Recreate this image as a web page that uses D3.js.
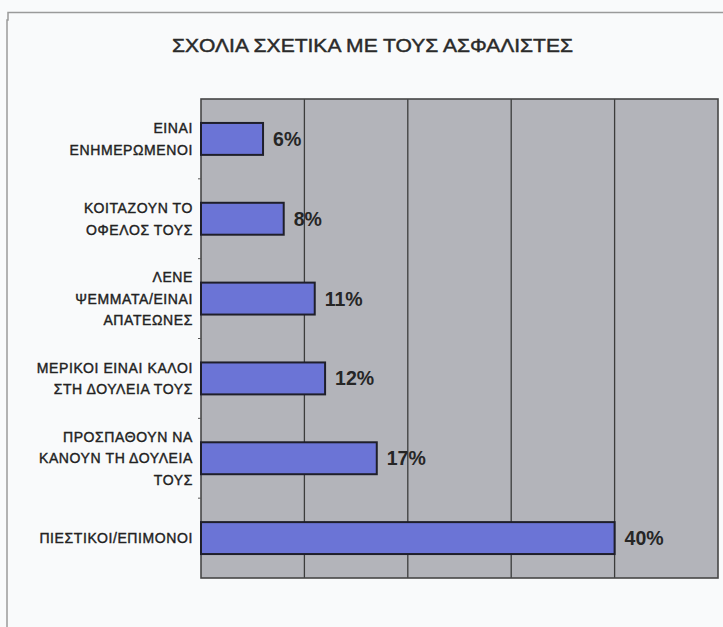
<!DOCTYPE html>
<html>
<head>
<meta charset="utf-8">
<script src="https://cdn.jsdelivr.net/npm/d3@7"></script>
<style>
  html, body { margin: 0; padding: 0; background: #f9fafb; }
  svg { display: block; }
</style>
</head>
<body>
<svg id="chart" width="723" height="627"></svg>
<script>
// Survey answers about insurance agents, one bar per answer
const categories = [
  ["ΕΙΝΑΙ", "ΕΝΗΜΕΡΩΜΕΝΟΙ"],
  ["ΚΟΙΤΑΖΟΥΝ ΤΟ", "ΟΦΕΛΟΣ ΤΟΥΣ"],
  ["ΛΕΝΕ", "ΨΕΜΜΑΤΑ/ΕΙΝΑΙ", "ΑΠΑΤΕΩΝΕΣ"],
  ["ΜΕΡΙΚΟΙ ΕΙΝΑΙ ΚΑΛΟΙ", "ΣΤΗ ΔΟΥΛΕΙΑ  ΤΟΥΣ"],
  ["ΠΡΟΣΠΑΘΟΥΝ ΝΑ", "ΚΑΝΟΥΝ ΤΗ ΔΟΥΛΕΙΑ", "ΤΟΥΣ"],
  ["ΠΙΕΣΤΙΚΟΙ/ΕΠΙΜΟΝΟΙ"]
];
const values = [0.06, 0.08, 0.11, 0.12, 0.17, 0.40];
const gridTicks = [0, 0.1, 0.2, 0.3, 0.4, 0.5];
const titleText = "ΣΧΟΛΙΑ ΣΧΕΤΙΚΑ ΜΕ ΤΟΥΣ ΑΣΦΑΛΙΣΤΕΣ";

const svg = d3.select("#chart");
const plot = { left: 201, right: 718, top: 99, bottom: 578 };

// outer frame (top and left edges)
svg.append("path")
  .attr("d", "M7,627 L7,20 L8,20 L8,12.5 L723,12.5")
  .attr("fill", "none")
  .attr("stroke", "#9a9a9a")
  .attr("stroke-width", 1.5);

// title
svg.append("text")
  .attr("x", 372.5)
  .attr("y", 52)
  .attr("text-anchor", "middle")
  .attr("font-family", "Liberation Sans, Arial, sans-serif")
  .attr("font-size", 19)
  .attr("fill", "#2a2a2a")
  .attr("stroke", "#2a2a2a")
  .attr("stroke-width", 0.45)
  .attr("textLength", 401)
  .attr("lengthAdjust", "spacingAndGlyphs")
  .text(titleText);

const x = d3.scaleLinear().domain([0, 0.5]).range([plot.left, plot.right]);
const y = d3.scaleBand()
  .domain(d3.range(categories.length))
  .range([plot.top, plot.bottom])
  .paddingInner(0.6)
  .paddingOuter(0.3);

// plot background
svg.append("rect")
  .attr("x", plot.left).attr("y", plot.top)
  .attr("width", plot.right - plot.left).attr("height", plot.bottom - plot.top)
  .attr("fill", "#b3b4ba");

// vertical gridlines
svg.append("g")
  .selectAll("line")
  .data(gridTicks.slice(1, -1))
  .join("line")
  .attr("x1", d => x(d)).attr("x2", d => x(d))
  .attr("y1", plot.top).attr("y2", plot.bottom)
  .attr("stroke", "#3c3c3c")
  .attr("stroke-width", 1.3);

// plot border
svg.append("rect")
  .attr("x", plot.left).attr("y", plot.top)
  .attr("width", plot.right - plot.left).attr("height", plot.bottom - plot.top)
  .attr("fill", "none")
  .attr("stroke", "#464646")
  .attr("stroke-width", 1.6);

// category tick marks between bands
svg.append("g")
  .selectAll("line")
  .data(d3.range(1, categories.length))
  .join("line")
  .attr("x1", plot.left - 3).attr("x2", plot.left)
  .attr("y1", i => plot.top + i * (plot.bottom - plot.top) / categories.length)
  .attr("y2", i => plot.top + i * (plot.bottom - plot.top) / categories.length)
  .attr("stroke", "#555");

// bars
svg.append("g")
  .selectAll("rect")
  .data(values)
  .join("rect")
  .attr("x", x(0))
  .attr("y", (d, i) => y(i))
  .attr("width", d => x(d) - x(0))
  .attr("height", y.bandwidth())
  .attr("fill", "#6b74d6")
  .attr("stroke", "#1f1f2a")
  .attr("stroke-width", 2);

// value labels
const fmt = d3.format(".0%");
svg.append("g")
  .selectAll("text")
  .data(values)
  .join("text")
  .attr("x", d => x(d) + 10)
  .attr("y", (d, i) => y(i) + y.bandwidth() / 2)
  .attr("dy", "0.36em")
  .attr("font-family", "Liberation Sans, Arial, sans-serif")
  .attr("font-weight", "bold")
  .attr("font-size", 19.5)
  .attr("fill", "#262626")
  .text(d => fmt(d));

// category labels (multi-line, right aligned)
const lineH = 21.5;
const labels = svg.append("g")
  .selectAll("text")
  .data(categories)
  .join("text")
  .attr("text-anchor", "end")
  .attr("font-family", "Liberation Sans, Arial, sans-serif")
  .attr("font-size", 14)
  .attr("letter-spacing", 0.6)
  .attr("fill", "#222")
  .attr("stroke", "#222")
  .attr("stroke-width", 0.4)
  .attr("transform", (d, i) => `translate(193,${y(i) + y.bandwidth() / 2})`);

labels.selectAll("tspan")
  .data(d => d.map((t, k) => ({ t, k, n: d.length })))
  .join("tspan")
  .attr("x", 0)
  .attr("y", d => (d.k - (d.n - 1) / 2) * lineH)
  .attr("dy", "0.36em")
  .text(d => d.t);
</script>
</body>
</html>
